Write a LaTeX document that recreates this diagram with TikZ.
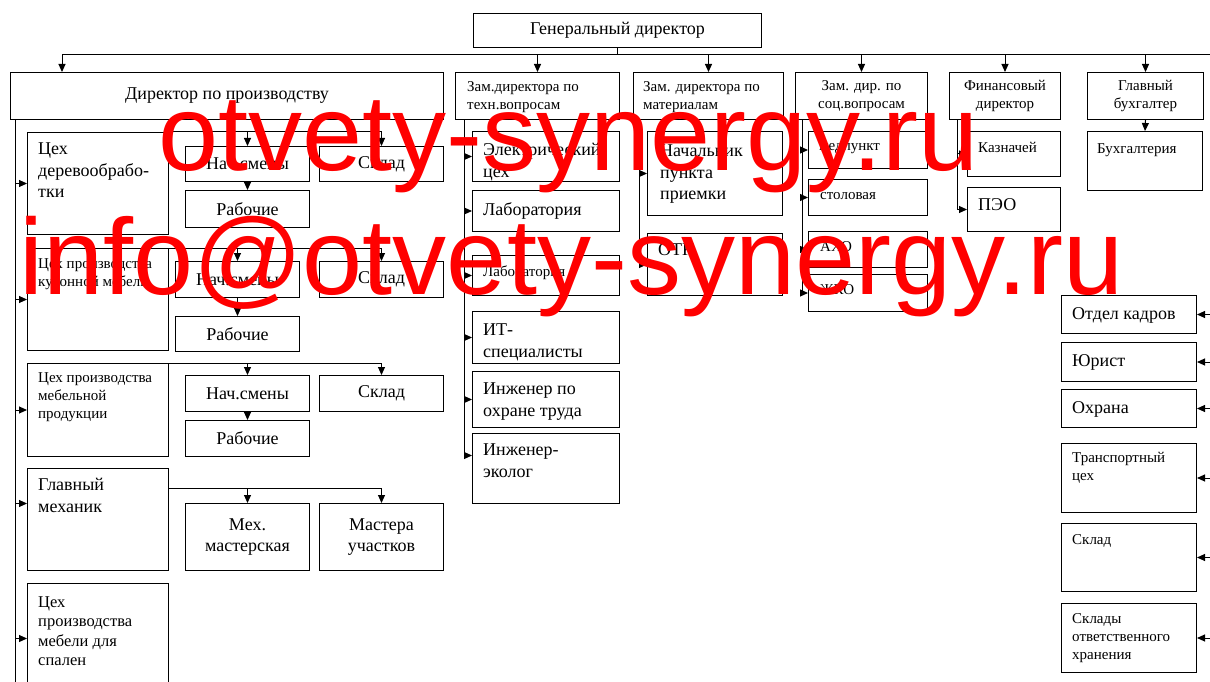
\documentclass[tikz,border=0pt]{standalone}
\usepackage{fontspec}
\setmainfont{Liberation Serif}
\newfontfamily\wmfont{Liberation Sans}
\usetikzlibrary{arrows.meta}

\tikzset{
  box/.style={draw, line width=1pt, anchor=north west, inner sep=0pt},
  lbl/.style={anchor=north west, inner sep=0pt, align=left},
  big/.style={font=\fontsize{18}{21.5}\selectfont},
  sml/.style={font=\fontsize{15}{18}\selectfont},
  ln/.style={line width=1pt},
  arr/.style={line width=1pt, -{Triangle[length=8pt,width=7pt]}},
  wm/.style={font=\wmfont\fontsize{108}{108}\selectfont, text=red, inner sep=0pt, anchor=base west},
}

\begin{document}
\begin{tikzpicture}[x=1pt,y=-1pt]
\clip (0,0) rectangle (1210,682);

%=====Верхний уровень=======
\node[box, big, minimum width=288, minimum height=34] (gd) at (473,13) {Генеральный директор};

\node[box, big, minimum width=433, minimum height=47] (dirprod) at (10,72) {Директор по производству};
\node[box, minimum width=164, minimum height=47] (zt) at (455,72) {};
\node[lbl, sml] (ztT) at ([shift={(12,9)}]zt.north west) {Зам.директора по\\техн.вопросам};
\node[box, minimum width=150, minimum height=47] (zm) at (633,72) {};
\node[lbl, sml] (zmT) at ([shift={(10,9)}]zm.north west) {Зам. директора по\\материалам};
\node[box, sml, align=center, minimum width=132, minimum height=47] (zs) at (795,72) {Зам. дир. по\\соц.вопросам};
\node[box, sml, align=center, minimum width=111, minimum height=47] (fd) at (949,72) {Финансовый\\директор};
\node[box, sml, align=center, minimum width=116, minimum height=47] (gb) at (1087,72) {Главный\\бухгалтер};

%=====Производство=======
\node[box, minimum width=141, minimum height=102] (ceh1) at (27,132) {};
\node[lbl, big] (ceh1T) at ([shift={(11,11)}]ceh1.north west) {Цех\\деревообрабо-\\тки};
\node[box, minimum width=141, minimum height=102] (ceh2) at (27,248) {};
\node[lbl, sml] (ceh2T) at ([shift={(11,10)}]ceh2.north west) {Цех производства\\кухонной мебели};
\node[box, minimum width=141, minimum height=93] (ceh3) at (27,363) {};
\node[lbl, sml] (ceh3T) at ([shift={(11,9)}]ceh3.north west) {Цех производства\\мебельной\\продукции};
\node[box, minimum width=141, minimum height=102] (mech) at (27,468) {};
\node[lbl, big] (mechT) at ([shift={(11,10)}]mech.north west) {Главный\\механик};
\node[box, minimum width=141, minimum height=110] (ceh5) at (27,583) {};
\node[lbl, font=\fontsize{16.5}{19.5}\selectfont] (ceh5T) at ([shift={(11,13)}]ceh5.north west) {Цех\\производства\\мебели для\\спален};

\node[box, big, minimum width=124, minimum height=35] (sm1) at (185,146) {Нач.смены};
\node[box, big, minimum width=124, minimum height=35] (sk1) at (319,146) {Склад};
\node[box, big, minimum width=124, minimum height=37] (rb1) at (185,190) {Рабочие};
\node[box, big, minimum width=124, minimum height=36] (sm2) at (175,261) {Нач.смены};
\node[box, big, minimum width=124, minimum height=36] (sk2) at (319,261) {Склад};
\node[box, big, minimum width=124, minimum height=35] (rb2) at (175,316) {Рабочие};
\node[box, big, minimum width=124, minimum height=36] (sm3) at (185,375) {Нач.смены};
\node[box, big, minimum width=124, minimum height=36] (sk3) at (319,375) {Склад};
\node[box, big, minimum width=124, minimum height=36] (rb3) at (185,420) {Рабочие};
\node[box, big, align=center, minimum width=124, minimum height=67] (mm) at (185,503) {Мех.\\мастерская};
\node[box, big, align=center, minimum width=124, minimum height=67] (mu) at (319,503) {Мастера\\участков};

%=====Технические вопросы=======
\node[box, minimum width=147, minimum height=50] (el) at (472,131) {};
\node[lbl, big] (elT) at ([shift={(11,12)}]el.north west) {Электрический\\цех};
\node[box, minimum width=147, minimum height=41] (lab1) at (472,190) {};
\node[lbl, big] (lab1T) at ([shift={(11,12)}]lab1.north west) {Лаборатория};
\node[box, minimum width=147, minimum height=40] (lab2) at (472,255) {};
\node[lbl, sml] (lab2T) at ([shift={(11,11)}]lab2.north west) {Лаборатория};
\node[box, minimum width=147, minimum height=52] (it) at (472,311) {};
\node[lbl, big] (itT) at ([shift={(11,13)}]it.north west) {ИТ-\\специалисты};
\node[box, minimum width=147, minimum height=56] (ohr) at (472,371) {};
\node[lbl, big] (ohrT) at ([shift={(11,12)}]ohr.north west) {Инженер по\\охране труда};
\node[box, minimum width=147, minimum height=70] (eco) at (472,433) {};
\node[lbl, big] (ecoT) at ([shift={(11,11)}]eco.north west) {Инженер-\\эколог};

%=====Материалы=======
\node[box, minimum width=135, minimum height=84] (np) at (647,131) {};
\node[lbl, big] (npT) at ([shift={(13,14)}]np.north west) {Начальник\\пункта\\приемки};
\node[box, minimum width=135, minimum height=62] (otk) at (647,233) {};
\node[lbl, big] (otkT) at ([shift={(11,10)}]otk.north west) {ОТК};

%=====Социальные вопросы=======
\node[box, minimum width=119, minimum height=37] (med) at (808,131) {};
\node[lbl, sml] (medT) at ([shift={(11,12)}]med.north west) {медпункт};
\node[box, minimum width=119, minimum height=36] (stol) at (808,179) {};
\node[lbl, sml] (stolT) at ([shift={(12,13)}]stol.north west) {столовая};
\node[box, minimum width=119, minimum height=36] (aho) at (808,231) {};
\node[lbl, sml] (ahoT) at ([shift={(12,10)}]aho.north west) {АХО};
\node[box, minimum width=119, minimum height=37] (zhko) at (808,274) {};
\node[lbl, sml] (zhkoT) at ([shift={(12,10)}]zhko.north west) {ЖКО};

%=====Финансы, бухгалтерия=======
\node[box, minimum width=93, minimum height=45] (kaz) at (967,131) {};
\node[lbl, sml] (kazT) at ([shift={(11,11)}]kaz.north west) {Казначей};
\node[box, minimum width=93, minimum height=44] (peo) at (967,187) {};
\node[lbl, big] (peoT) at ([shift={(11,11)}]peo.north west) {ПЭО};
\node[box, minimum width=115, minimum height=59] (buh) at (1087,131) {};
\node[lbl, sml] (buhT) at ([shift={(10,12)}]buh.north west) {Бухгалтерия};

%=====Правая колонка=======
\node[box, minimum width=135, minimum height=38] (otd) at (1061,295) {};
\node[lbl, big] (otdT) at ([shift={(11,12)}]otd.north west) {Отдел кадров};
\node[box, minimum width=135, minimum height=39] (jur) at (1061,342) {};
\node[lbl, big] (jurT) at ([shift={(11,12)}]jur.north west) {Юрист};
\node[box, minimum width=135, minimum height=38] (ohrana) at (1061,389) {};
\node[lbl, big] (ohranaT) at ([shift={(11,12)}]ohrana.north west) {Охрана};
\node[box, minimum width=135, minimum height=69] (trans) at (1061,443) {};
\node[lbl, sml] (transT) at ([shift={(11,9)}]trans.north west) {Транспортный\\цех};
\node[box, minimum width=135, minimum height=68] (skl) at (1061,523) {};
\node[lbl, sml] (sklT) at ([shift={(11,11)}]skl.north west) {Склад};
\node[box, minimum width=135, minimum height=69] (skl2) at (1061,603) {};
\node[lbl, sml] (skl2T) at ([shift={(11,10)}]skl2.north west) {Склады\\ответственного\\хранения};

%=====Связи=======
\coordinate (busL) at (62,55);
\coordinate (busR) at (1212,55);
\draw[ln] (gd.south) -- (gd.south |- busL);
\draw[ln] (busL) -- (busR);
\draw[arr] (busL) -- (busL |- dirprod.north);
\foreach \n in {zt,zm,zs,fd,gb} \draw[arr] (busL -| \n.north) -- (\n.north);

\coordinate (spA) at ([xshift=5pt]dirprod.south west);
\coordinate (spB) at (15,690);
\coordinate (mechIn) at ([yshift=16pt]mech.west);
\draw[ln] (spA) -- (spB);
\foreach \n in {ceh1,ceh2,ceh3,ceh5} \draw[arr] (spA |- \n.west) -- (\n.west);
\draw[arr] (spA |- mechIn) -- (mechIn);

\foreach \i in {1,2,3}{
  \draw[ln] (ceh\i.north east) -- (ceh\i.north east -| sk\i.north);
  \draw[arr] (ceh\i.north east -| sm\i.north) -- (sm\i.north);
  \draw[arr] (ceh\i.north east -| sk\i.north) -- (sk\i.north);
  \draw[arr] (sm\i.south) -- (rb\i.north);
}
\coordinate (mj) at ([yshift=-20pt]mech.north east);
\draw[ln] (mj) -- (mj -| mu.north);
\draw[arr] (mj -| mm.north) -- (mm.north);
\draw[arr] (mj -| mu.north) -- (mu.north);

\coordinate (tA) at ([xshift=9pt]zt.south west);
\coordinate (ecoIn) at ([yshift=13pt]eco.west);
\draw[ln] (tA) -- (tA |- ecoIn);
\foreach \n in {el,lab1,lab2,it,ohr} \draw[arr] (tA |- \n.west) -- (\n.west);
\draw[arr] (tA |- ecoIn) -- (ecoIn);

\coordinate (mA) at ([xshift=6pt]zm.south west);
\draw[ln] (mA) -- (mA |- otk.west);
\foreach \n in {np,otk} \draw[arr] (mA |- \n.west) -- (\n.west);

\coordinate (sA) at ([xshift=7pt]zs.south west);
\draw[ln] (sA) -- (sA |- zhko.west);
\foreach \n in {med,stol,aho,zhko} \draw[arr] (sA |- \n.west) -- (\n.west);

\coordinate (fA) at ([xshift=8pt]fd.south west);
\draw[ln] (fA) -- (fA |- peo.west);
\foreach \n in {kaz,peo} \draw[arr] (fA |- \n.west) -- (\n.west);

\draw[arr] (gb.south) -- (buh.north);

\coordinate (rE) at (1212,0);
\foreach \n in {otd,jur,ohrana,trans,skl,skl2} \draw[arr] (rE |- \n.east) -- (\n.east);

%=====Надпись=======
\node[wm] (wm1) at (158,171) {otvety-synergy.ru};
\node[wm] (wm2) at (19,294) {info@otvety-synergy.ru};

\end{tikzpicture}
\end{document}
